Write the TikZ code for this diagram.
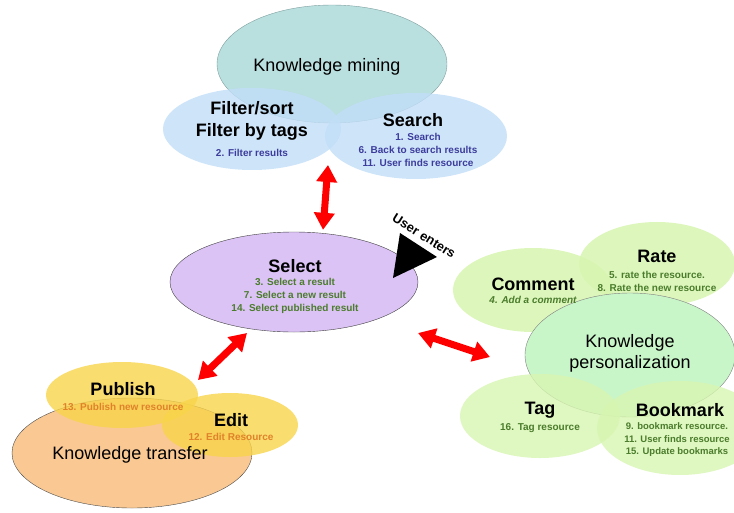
\documentclass[tikz,border=0pt]{standalone}
\usepackage{fontspec}
\setmainfont{Liberation Sans}
\usetikzlibrary{calc}
\usetikzlibrary{arrows.meta, shapes, positioning}

\definecolor{minefill}{HTML}{B9DFDF}
\definecolor{mineline}{HTML}{7F9F9F}
\definecolor{skyfill}{HTML}{C2DEF8}
\definecolor{lilac}{HTML}{DCC3F5}
\definecolor{leaf}{HTML}{D7F5B0}
\definecolor{mint}{HTML}{C9F6C9}
\definecolor{sun}{HTML}{F8D44A}
\definecolor{peach}{HTML}{F9C893}
\definecolor{navy}{HTML}{3C3C9C}
\definecolor{moss}{HTML}{4A7C2C}
\definecolor{rust}{HTML}{E0822A}

\begin{document}
\begin{tikzpicture}[x=1pt,y=-1pt,
  blob/.style={ellipse, inner sep=0pt},
  head/.style={font=\bfseries\fontsize{18}{22}\selectfont, align=center},
  plain/.style={font=\fontsize{18}{21}\selectfont, align=center},
  item/.style={font=\bfseries\fontsize{10}{13}\selectfont, align=center},
  link/.style={red, line width=7pt, {Triangle[width=20pt,length=17pt]}-{Triangle[width=20pt,length=17pt]}}]
\useasboundingbox (0,0) rectangle (734,512);

\node[blob, fill=minefill, draw=mineline, minimum width=230pt, minimum height=118pt] (mine) at (332,64) {};
\node[blob, fill=skyfill, opacity=.8, minimum width=178pt, minimum height=82pt] (filter) at (252,129) {};
\node[blob, fill=skyfill, opacity=.8, minimum width=182pt, minimum height=86pt] (search) at (416,136) {};

\node[blob, fill=lilac, draw=black!75, minimum width=248pt, minimum height=100pt] (select) at (294,282) {};

\node[blob, fill=leaf, opacity=.85, minimum width=160pt, minimum height=84pt] (comment) at (533,290) {};
\node[blob, fill=leaf, opacity=.85, minimum width=156pt, minimum height=84pt] (rate) at (657,264) {};
\node[blob, fill=mint, draw=black!50, minimum width=210pt, minimum height=124pt] (pers) at (630,355) {};
\node[blob, fill=leaf, opacity=.8, minimum width=160pt, minimum height=84pt] (tag) at (540,416) {};
\node[blob, fill=leaf, opacity=.8, minimum width=166pt, minimum height=94pt] (bookmark) at (680,428) {};

\node[blob, fill=peach, draw=black!70, minimum width=240pt, minimum height=110pt] (transfer) at (132,453) {};
\node[blob, fill=sun, opacity=.8, minimum width=152pt, minimum height=66pt] (publish) at (122,395) {};
\node[blob, fill=sun, opacity=.8, minimum width=136pt, minimum height=64pt] (edit) at (230,425) {};

\node[plain] (mineT) at (327,67) {Knowledge mining};
\node[head] (filterT) at (252,121) {Filter/sort\\Filter by tags};
\node[item, text=navy] (filterI) at (252,153) {2. Filter results};
\node[head] (searchT) at (413,120) {Search};
\node[item, text=navy] (searchI) at (418,150) {1. Search\\6. Back to search results\\11. User finds resource};

\node[head] (selectT) at (295,266) {Select};
\node[item, text=moss] (selectI) at (295,296) {3. Select a result\\7. Select a new result\\14. Select published result};

\node[head] (commentT) at (533,284) {Comment};
\node[item, text=moss, font=\bfseries\itshape\fontsize{10}{13}\selectfont] (commentI) at (533,300) {4. Add a comment};
\node[head] (rateT) at (657,256) {Rate};
\node[item, text=moss] (rateI) at (657,281) {5. rate the resource.\\8. Rate the new resource};
\node[plain] (persT) at (630,353) {Knowledge\\personalization};
\node[head] (tagT) at (540,410) {Tag};
\node[item, text=moss] (tagI) at (540,428) {16. Tag resource};
\node[head] (bookmarkT) at (680,410) {Bookmark};
\node[item, text=moss, font=\bfseries\fontsize{9.5}{12.5}\selectfont] (bookmarkI) at (677,440) {9. bookmark resource.\\11. User finds resource\\15. Update bookmarks};

\node[head] (publishT) at (123,389) {Publish};
\node[item, text=rust] (publishI) at (123,407) {13. Publish new resource};
\node[head] (editT) at (231,420) {Edit};
\node[item, text=rust] (editI) at (231,437) {12. Edit Resource};
\node[plain] (transferT) at (130,455) {Knowledge transfer};

% user entry point
\fill (400,233) -- (437,257) -- (393,278) -- cycle;
\node[font=\bfseries\fontsize{13}{15}\selectfont, rotate=-32] (enters) at (424,236) {User enters};

\draw[link] ($(search)+(-88,29)$) -- ($(select.north)+(29,-2)$);
\draw[link] ($(select)+(-47,51)$) -- ($(publish)+(76,-15)$);
\draw[link] ($(select)+(124,51)$) -- ($(pers)+(-140,2)$);
\end{tikzpicture}
\end{document}
